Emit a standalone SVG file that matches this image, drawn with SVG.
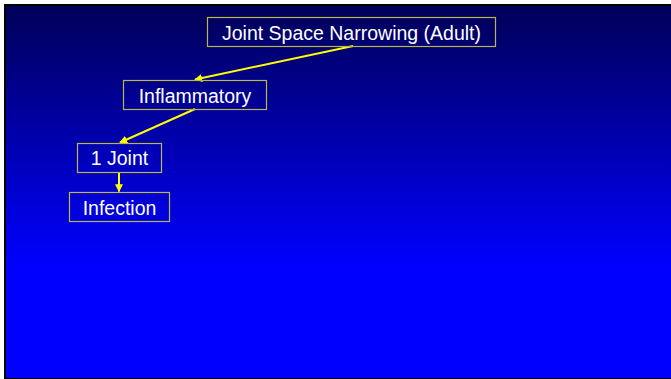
<svg xmlns="http://www.w3.org/2000/svg" width="671" height="379" viewBox="0 0 671 379">
<defs>
<linearGradient id="bg" x1="0" y1="0" x2="0" y2="1">
<stop offset="0" stop-color="#000058"/>
<stop offset="0.7" stop-color="#0000FF"/>
<stop offset="1" stop-color="#0000FF"/>
</linearGradient>
<marker id="ah" viewBox="0 0 10 10" refX="9" refY="5" markerWidth="4" markerHeight="4" orient="auto" markerUnits="strokeWidth">
<path d="M0,0 L10,5 L0,10 z" fill="#FFFF00"/>
</marker>
</defs>
<style>
.box{fill:none;stroke:#B8B84A;stroke-width:1.2}
.lbl{font-family:"Liberation Sans",Arial,sans-serif;font-size:19.5px;fill:#FFFFFF;text-anchor:middle;dominant-baseline:central}
.con{stroke:#FFFF00;stroke-width:2;fill:none;marker-end:url(#ah)}
</style>
<rect x="0" y="0" width="671" height="379" fill="#FFFFFF"/>
<rect x="4" y="4" width="667" height="375" fill="#000000"/>
<rect x="6" y="6" width="665" height="372" fill="url(#bg)"/>
<g id="connectors">
<line class="con" x1="353" y1="46" x2="195" y2="79.5"/>
<line class="con" x1="195" y1="109" x2="120" y2="142.5"/>
<line class="con" x1="119" y1="172" x2="119" y2="191.5"/>
</g>
<g id="node-jsn">
<rect class="box" x="207.5" y="17.5" width="288" height="29"/>
<text class="lbl" x="351.5" y="32.5">Joint Space Narrowing (Adult)</text>
</g>
<g id="node-inflammatory">
<rect class="box" x="123.5" y="80.5" width="143" height="29"/>
<text class="lbl" x="195" y="95.5">Inflammatory</text>
</g>
<g id="node-1joint">
<rect class="box" x="77.5" y="143.5" width="84" height="29"/>
<text class="lbl" x="119.5" y="157.5">1 Joint</text>
</g>
<g id="node-infection">
<rect class="box" x="69.5" y="192.5" width="100" height="29"/>
<text class="lbl" x="119.5" y="207.5">Infection</text>
</g>
</svg>
